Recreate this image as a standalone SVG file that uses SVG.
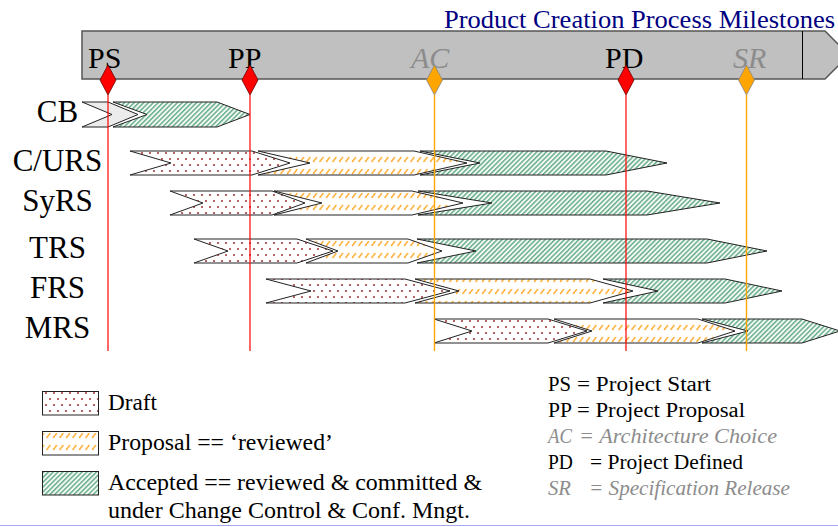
<svg xmlns="http://www.w3.org/2000/svg" width="838" height="527" viewBox="0 0 838 527">
<style>
text{font-family:"Liberation Serif","Times New Roman",serif;}
.title{font-size:25px;fill:#000080;}
.ms{font-size:30px;fill:#000;}
.msi{font-size:30px;fill:#8c8c8c;font-style:italic;}
.row{font-size:31px;fill:#000;text-anchor:middle;}
.lg{font-size:23px;fill:#000;}
.kl{font-size:20px;fill:#000;}
.kli{font-size:20px;fill:#8c8c8c;font-style:italic;}
.draft{fill:url(#dots);stroke:#222;stroke-width:1;}
.prop{fill:url(#dash);stroke:#222;stroke-width:1;}
.acc{fill:url(#stripe);stroke:#222;stroke-width:1;}
.pre{fill:#ececec;stroke:#222;stroke-width:1;}
.redd{fill:#ff0000;stroke:#600;stroke-width:0.8;}
.ord{fill:#ffa500;stroke:#888;stroke-width:0.8;}
.redl{stroke:#ff0000;stroke-width:1.2;}
.orl{stroke:#ffa500;stroke-width:1.4;}
.box{stroke:#222;stroke-width:1;}
</style>
<defs>
<pattern id="dots" patternUnits="userSpaceOnUse" width="8" height="12">
<rect width="8" height="12" fill="#fff"/>
<circle cx="2" cy="3" r="1" fill="#a03030"/>
<circle cx="6" cy="9" r="1" fill="#a03030"/>
</pattern>
<pattern id="dash" patternUnits="userSpaceOnUse" width="6.5" height="12">
<rect width="6.5" height="12" fill="#fff"/>
<line x1="1.5" y1="5.5" x2="4.5" y2="1.5" stroke="#ffa726" stroke-width="1.5" stroke-linecap="round" stroke-dasharray="1.2 0.8"/>
</pattern>
<pattern id="stripe" patternUnits="userSpaceOnUse" width="3.4" height="3.4" patternTransform="rotate(45)">
<rect width="3.4" height="3.4" fill="#f4faf6"/>
<rect width="1.5" height="3.4" fill="#6aae8b"/>
</pattern>
</defs>
<rect width="838" height="527" fill="#fff"/>
<text class="title" x="444" y="28" textLength="391" lengthAdjust="spacingAndGlyphs">Product Creation Process Milestones</text>
<g id="timeline">
<polygon points="82,31 825,31 849,55 825,79 82,79" fill="#c0c0c0" stroke="#555" stroke-width="1.5"/>
<line x1="802.5" y1="31" x2="802.5" y2="79" stroke="#000" stroke-width="1"/>
</g>
<g id="row-CB">
<text class="row" x="57.5" y="122">CB</text>
<polygon class="pre" points="82,102 108,102 138,114.5 108,127 82,127 112,114.5"/>
<polygon class="acc" points="113,102 217,102 250,114.5 217,127 113,127 147,114.5"/>
</g>
<g id="row-CURS">
<text class="row" x="57.5" y="171">C/URS</text>
<polygon class="draft" points="130,151 252,151 290,163 252,175 130,175 171,163"/>
<polygon class="prop" points="258,151 414,151 467,163 414,175 258,175 310,163"/>
<polygon class="acc" points="420,151 606,151 667,163 606,175 420,175 480,163"/>
</g>
<g id="row-SyRS">
<text class="row" x="57.5" y="211">SyRS</text>
<polygon class="draft" points="170,191 272,191 305,203 272,215 170,215 203,203"/>
<polygon class="prop" points="274,191 412,191 463,203 412,215 274,215 322,203"/>
<polygon class="acc" points="418,191 647,191 720,203 647,215 418,215 492,203"/>
</g>
<g id="row-TRS">
<text class="row" x="57.5" y="258">TRS</text>
<polygon class="draft" points="194,239 297,239 333,251 297,263 194,263 228,251"/>
<polygon class="prop" points="306,239 408,239 442,251 408,263 306,263 338,251"/>
<polygon class="acc" points="417,239 707,239 767,251 707,263 417,263 476,251"/>
</g>
<g id="row-FRS">
<text class="row" x="57.5" y="298">FRS</text>
<polygon class="draft" points="266,279 405,279 450,291 405,303 266,303 311,291"/>
<polygon class="prop" points="415,279 590,279 633,291 590,303 415,303 459,291"/>
<polygon class="acc" points="603,279 725,279 782,291 725,303 603,303 658,291"/>
</g>
<g id="row-MRS">
<text class="row" x="57.5" y="338">MRS</text>
<polygon class="draft" points="434,319 548,319 587,331 548,343 434,343 472,331"/>
<polygon class="prop" points="554,319 698,319 735,331 698,343 554,343 592,331"/>
<polygon class="acc" points="702,319 802,319 840,331 802,343 702,343 748,331"/>
</g>
<g id="connectors">
<line class="redl" x1="108" y1="95" x2="108" y2="351"/>
<line class="redl" x1="250" y1="95" x2="250" y2="351"/>
<line class="orl" x1="434.5" y1="95" x2="434.5" y2="351"/>
<line class="redl" x1="626" y1="95" x2="626" y2="351"/>
<line class="orl" x1="746.5" y1="95" x2="746.5" y2="351"/>
</g>
<g id="ms-PS">
<text class="ms" x="88" y="68">PS</text>
<polygon class="redd" points="108,65 116,80 108,95 100,80"/>
</g>
<g id="ms-PP">
<text class="ms" x="228" y="68">PP</text>
<polygon class="redd" points="250,65 258,80 250,95 242,80"/>
</g>
<g id="ms-AC">
<text class="msi" x="411" y="68">AC</text>
<polygon class="ord" points="434.5,65 442.5,80 434.5,95 426.5,80"/>
</g>
<g id="ms-PD">
<text class="ms" x="605" y="68">PD</text>
<polygon class="redd" points="626,65 634,80 626,95 618,80"/>
</g>
<g id="ms-SR">
<text class="msi" x="733" y="68">SR</text>
<polygon class="ord" points="746.5,65 754.5,80 746.5,95 738.5,80"/>
</g>
<g id="legend-draft">
<rect class="box" x="42.5" y="391.5" width="56" height="23.5" fill="url(#dots)"/>
<text class="lg" x="108" y="410" textLength="49" lengthAdjust="spacingAndGlyphs">Draft</text>
</g>
<g id="legend-proposal">
<rect class="box" x="42.5" y="431.5" width="56" height="23.5" fill="url(#dash)"/>
<text class="lg" x="108" y="450" textLength="225" lengthAdjust="spacingAndGlyphs">Proposal == ‘reviewed’</text>
</g>
<g id="legend-accepted">
<rect class="box" x="42.5" y="471.5" width="56" height="23.5" fill="url(#stripe)"/>
<text class="lg" x="108" y="490" textLength="374" lengthAdjust="spacingAndGlyphs">Accepted == reviewed &amp; committed &amp;</text>
<text class="lg" x="108" y="518" textLength="362" lengthAdjust="spacingAndGlyphs">under Change Control &amp; Conf. Mngt.</text>
</g>
<g id="key">
<text class="kl" x="548" y="391" textLength="23" lengthAdjust="spacingAndGlyphs">PS</text><text class="kl" x="577" y="391" textLength="134" lengthAdjust="spacingAndGlyphs">= Project Start</text>
<text class="kl" x="548" y="417" textLength="24" lengthAdjust="spacingAndGlyphs">PP</text><text class="kl" x="577" y="417" textLength="168" lengthAdjust="spacingAndGlyphs">= Project Proposal</text>
<text class="kli" x="548" y="443" textLength="24" lengthAdjust="spacingAndGlyphs">AC</text><text class="kli" x="579" y="443" textLength="198" lengthAdjust="spacingAndGlyphs">= Architecture Choice</text>
<text class="kl" x="548" y="469" textLength="25" lengthAdjust="spacingAndGlyphs">PD</text><text class="kl" x="590" y="469" textLength="153" lengthAdjust="spacingAndGlyphs">= Project Defined</text>
<text class="kli" x="548" y="495" textLength="23" lengthAdjust="spacingAndGlyphs">SR</text><text class="kli" x="589" y="495" textLength="201" lengthAdjust="spacingAndGlyphs">= Specification Release</text>
</g>
<line x1="0" y1="525.5" x2="838" y2="525.5" stroke="#a8a8f0" stroke-width="1"/>
</svg>
